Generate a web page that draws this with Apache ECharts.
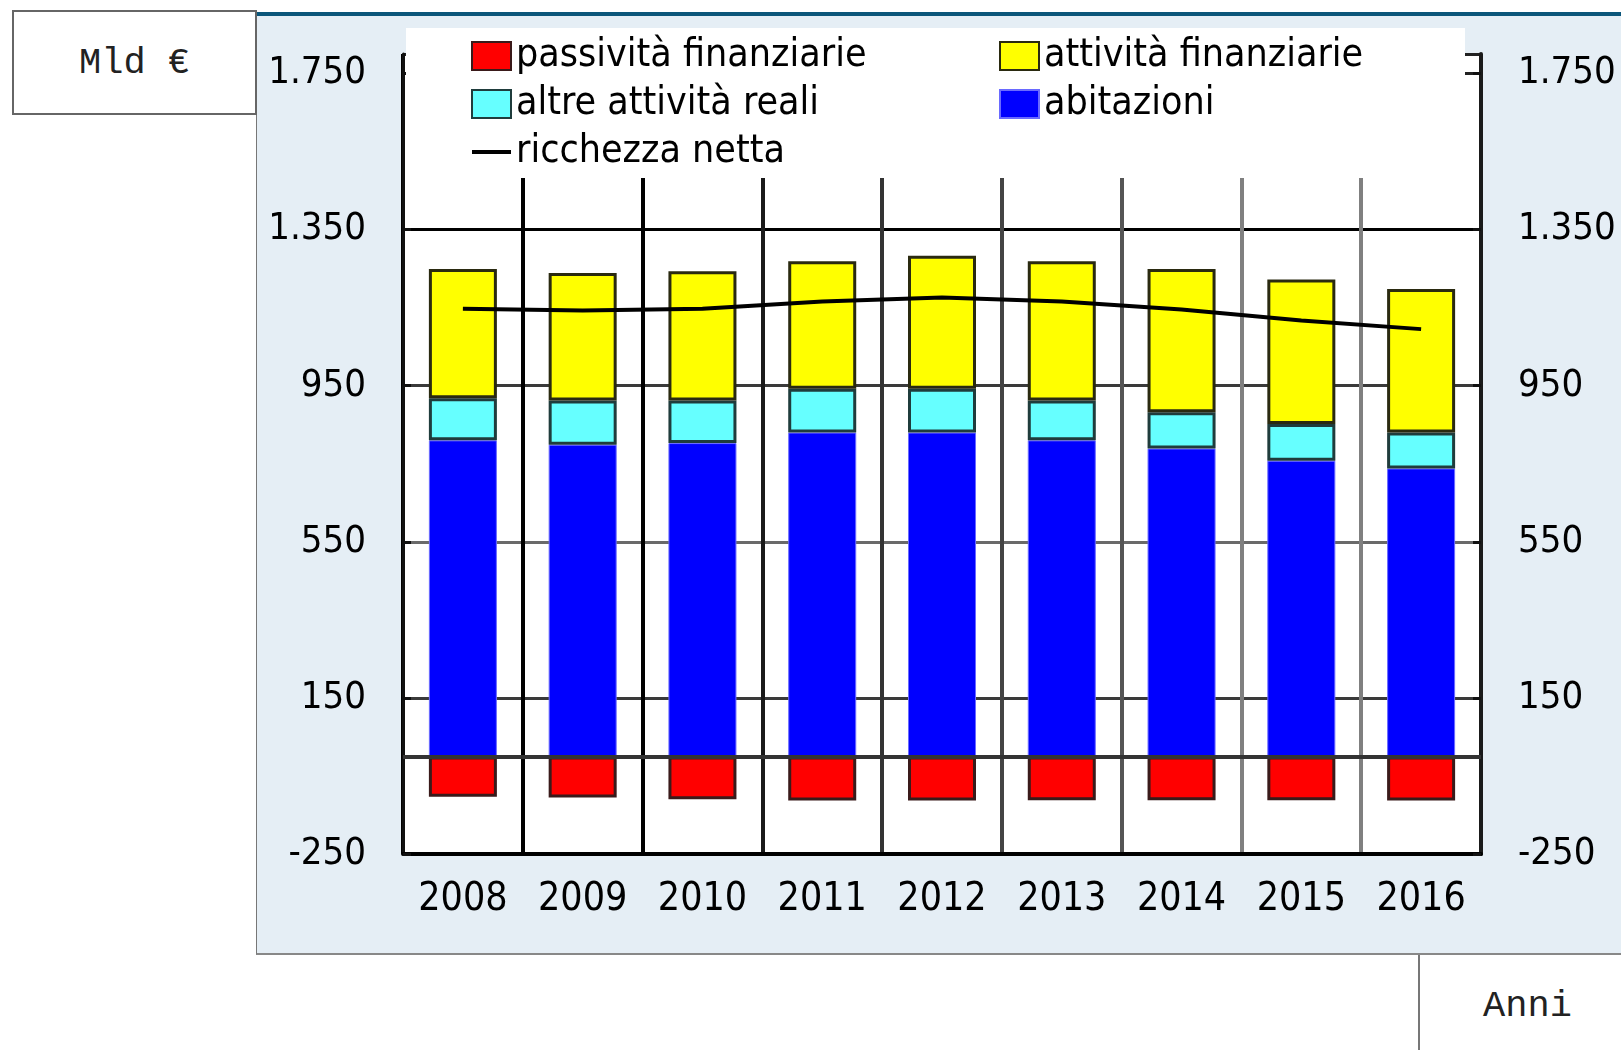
<!DOCTYPE html>
<html>
<head>
<meta charset="utf-8">
<script src="https://cdn.jsdelivr.net/npm/echarts@6/dist/echarts.min.js"></script>
<style>
  html, body { margin: 0; padding: 0; background: #fff; }
  body { width: 1621px; height: 1050px; position: relative; overflow: hidden; }
  #panel {
    position: absolute; left: 256px; top: 12px; width: 1400px; height: 943px;
    background: #e5eef5; border-top: 4px solid #0b567a; border-left: 1px solid #777;
    border-bottom: 2px solid #888; box-sizing: border-box;
  }
  .box {
    position: absolute; font-family: 'Liberation Mono', 'Courier New', monospace;
    font-size: 37px; color: #222; display: flex; align-items: center; justify-content: center;
    box-sizing: border-box; background: #fff;
  }
  #unit { left: 12px; top: 10px; width: 245px; height: 105px; border: 2px solid #666; }
  #xname { left: 1418px; top: 955px; width: 220px; height: 100px; border-left: 2px solid #777; padding-right: 3px; padding-top: 2px; }
  #chart { position: absolute; left: 0; top: 0; width: 1621px; height: 1050px; }
</style>
</head>
<body>
<div id="panel"></div>
<div id="unit" class="box">Mld €</div>
<div id="xname" class="box">Anni</div>
<div id="chart"></div>
<script>
// -- data (Mld €) --
const years = ['2008', '2009', '2010', '2011', '2012', '2013', '2014', '2015', '2016'];
const passivitaFinanziarie = [-103, -105, -110, -113, -113, -112, -112, -112, -113];
const attivitaFinanziarie = [331, 327, 331, 327, 341, 357, 367, 370, 368];
const altreAttivitaReali = [108, 113, 109, 112, 112, 102, 93, 94, 92];
const abitazioni = [810, 799, 803, 830, 830, 810, 789, 758, 738];
const ricchezzaNetta = [1147, 1143, 1147, 1166, 1176, 1166, 1145, 1117, 1095];
const yMin = -250, yMax = 1800, yStep = 400;

const FONT = "'Liberation Sans Narrow', 'DejaVu Sans Condensed', 'Roboto Condensed', sans-serif";

// Italian thousands separator (1750 -> 1.750)
function fmtIt(v) {
  return String(v).replace(/\B(?=(\d{3})+(?!\d))/g, '.');
}

const chart = echarts.init(document.getElementById('chart'), null, { renderer: 'canvas' });

const yAxisBase = {
  type: 'value',
  min: yMin,
  max: yMax,
  interval: yStep,
  axisLine: { show: true, lineStyle: { color: '#111', width: 3 } },
  axisTick: { show: true, inside: true, length: 8, lineStyle: { color: '#111', width: 3 } },
  axisLabel: {
    showMaxLabel: false,
    color: '#000',
    fontFamily: FONT,
    fontSize: 38,
    margin: 37,
    formatter: fmtIt
  }
};

const legendText = { color: '#000', fontFamily: FONT, fontSize: 39, lineHeight: 48 };

const option = {
  animation: false,
  grid: {
    left: 403, right: 140, top: 54, bottom: 196,
    outerBoundsMode: 'none',
    show: true, backgroundColor: '#fff', borderWidth: 0
  },
  // white box behind the legend, hides the top of the grid like the original
  graphic: [{
    type: 'rect', left: 406, top: 28, z: 3,
    shape: { width: 1059, height: 150 },
    style: { fill: '#fff' }
  }],
  legend: [{
    orient: 'vertical', left: 471, top: 32, padding: 0, itemGap: 0,
    itemWidth: 39, itemHeight: 28, z: 5, selectedMode: false, icon: 'rect',
    textStyle: legendText,
    data: [
      'passività finanziarie',
      'altre attività reali',
      { name: 'ricchezza netta', icon: 'path://M0,0H39V4H0Z' }
    ]
  }, {
    orient: 'vertical', left: 999, top: 32, padding: 0, itemGap: 0,
    itemWidth: 39, itemHeight: 28, z: 5, selectedMode: false, icon: 'rect',
    textStyle: legendText,
    data: ['attività finanziarie', 'abitazioni']
  }],
  xAxis: {
    type: 'category',
    data: years,
    boundaryGap: true,
    axisLine: { show: true, onZero: false, lineStyle: { color: '#000', width: 4 } },
    axisTick: { show: false, interval: 0 },
    axisLabel: { interval: 0, color: '#000', fontFamily: FONT, fontSize: 39, margin: 26 },
    splitLine: {
      show: true,
      interval: 0,
      lineStyle: {
        width: 4,
        color: ['#000', '#000', '#000', '#1a1a1a', '#333', '#444', '#555', '#808080', '#808080', '#000']
      }
    }
  },
  yAxis: [
    Object.assign({}, yAxisBase, {
      position: 'left',
      splitLine: {
        show: true,
        lineStyle: { width: 3, color: ['#000', '#3a3a3a', '#6a6a6a', '#3a3a3a', '#000', '#222', '#222'] }
      }
    }),
    Object.assign({}, yAxisBase, {
      position: 'right',
      axisLine: { show: true, lineStyle: { color: '#1a1a1a', width: 4 } },
      splitLine: { show: false }
    })
  ],
  series: [
    {
      name: 'abitazioni', type: 'bar', stack: 'tot', barWidth: 68,
      itemStyle: { color: '#0000ff', borderColor: '#6a6aff', borderWidth: 1 },
      data: abitazioni
    },
    {
      name: 'altre attività reali', type: 'bar', stack: 'tot', barWidth: 68,
      itemStyle: { color: '#66ffff', borderColor: '#1f3c3c', borderWidth: 3 },
      data: altreAttivitaReali
    },
    {
      name: 'attività finanziarie', type: 'bar', stack: 'tot', barWidth: 68,
      itemStyle: { color: '#ffff00', borderColor: '#2a2a10', borderWidth: 3 },
      data: attivitaFinanziarie
    },
    {
      name: 'passività finanziarie', type: 'bar', stack: 'tot', barWidth: 68,
      itemStyle: { color: '#ff0000', borderColor: '#3a1a1a', borderWidth: 3 },
      data: passivitaFinanziarie,
      markLine: {
        silent: true, symbol: 'none', label: { show: false },
        lineStyle: { color: '#333', width: 4, type: 'solid' },
        data: [{ yAxis: 0 }]
      }
    },
    {
      name: 'ricchezza netta', type: 'line', symbol: 'none', z: 6,
      lineStyle: { color: '#000', width: 4 },
      itemStyle: { color: '#000' },
      data: ricchezzaNetta
    }
  ]
};

chart.setOption(option);
</script>
</body>
</html>
